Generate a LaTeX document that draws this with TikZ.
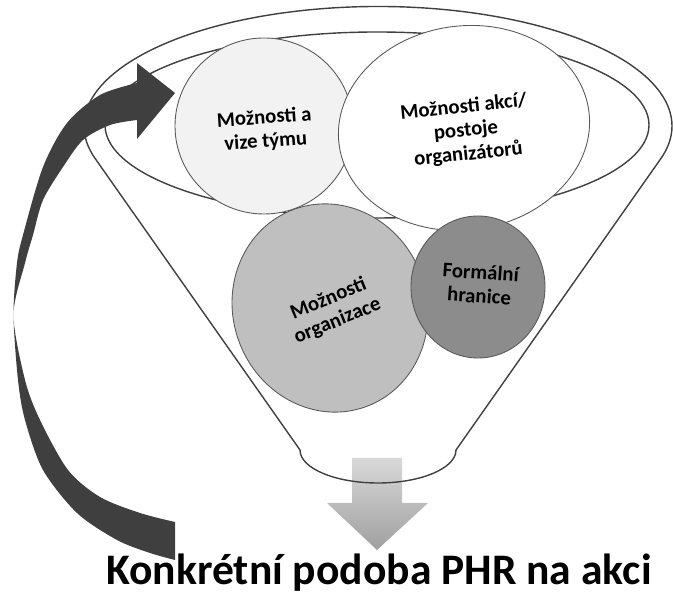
\documentclass[tikz,border=0pt]{standalone}
\usepackage{fontspec}
\setmainfont{Carlito}
\usetikzlibrary{arrows.meta}

\definecolor{arrowgray}{HTML}{3F3F3F}
\definecolor{linegray}{HTML}{404040}
\definecolor{teamgray}{HTML}{F2F2F2}
\definecolor{orggray}{HTML}{BFBFBF}
\definecolor{formgray}{HTML}{8C8C8C}

\begin{document}
\begin{tikzpicture}[line width=0.75pt,
  rim/.style={draw=linegray,line width=0.8pt},
  blob/.style={draw=gray!70!black,line width=0.5pt},
  lbl/.style={font=\bfseries\fontsize{11.8}{13.5}\selectfont,align=center,text=black}]

\useasboundingbox (0,0) rectangle (13.46,11.9);

% output arrow below the funnel
\shade[top color=gray!30,bottom color=gray!75] (7.04,2.74) -- (8.04,2.74) -- (8.04,1.84) -- (8.56,1.84)
  -- (7.54,0.9) -- (6.54,1.84) -- (7.04,1.84) -- cycle;

% funnel
\draw[rim] (1.92,8.705) arc[start angle=196.4, end angle=-16.4, x radius=5.88, y radius=2.39]
  -- (9.12,2.9) arc[start angle=0, end angle=-180, x radius=1.56, y radius=0.66] -- cycle;
\draw[rim] (7.54,9.4) ellipse[x radius=5.44, y radius=1.86];

% circles
\draw[blob,fill=teamgray] (5.28,9.38) ellipse[x radius=1.78, y radius=1.76];
\draw[blob,fill=white,rotate around={8:(9.28,9.34)}] (9.28,9.34) ellipse[x radius=2.52, y radius=2.04];
\draw[blob,fill=orggray,rotate around={20:(6.6,5.74)}] (6.6,5.74) ellipse[x radius=1.94, y radius=2.1];
\draw[blob,fill=formgray] (9.56,6.16) ellipse[x radius=1.34, y radius=1.42];

\node[lbl,rotate=4] (vize) at (5.3,9.3) {Možnosti a\\vize týmu};
\node[lbl,rotate=6] (akce) at (9.32,9.28) {Možnosti akcí/\\postoje\\organizátorů};
\node[lbl,rotate=22] (org) at (6.66,5.7) {Možnosti\\organizace};
\node[lbl,rotate=-4] (hranice) at (9.6,6.22) {Formální\\hranice};

% feedback arrow on the left
\fill[arrowgray] plot[smooth] coordinates {(3.5,0.7) (3.0,0.84) (2.34,1.1) (1.54,1.64) (0.86,2.5)
    (0.5,3.5) (0.36,4.3) (0.27,5.6) (0.34,6.64) (0.46,7.2) (0.86,8.56) (1.34,9.44)
    (2.0,10.0) (2.74,10.24)}
  -- (2.74,10.64) -- (3.5,10.04) -- (2.74,9.12)
  -- plot[smooth] coordinates {(2.74,9.5) (2.2,9.4) (1.66,9.1) (1.26,8.56) (0.86,7.9) (0.66,7.2)
    (0.5,6.64) (0.27,5.6) (0.5,4.3) (0.8,3.5) (1.36,2.5) (2.0,1.96) (2.8,1.64) (3.5,1.46)}
  -- cycle;

\node[font=\bfseries\fontsize{24.8}{28}\selectfont,anchor=base] (podoba) at (7.58,0.2) {Konkrétní podoba PHR na akci};

\end{tikzpicture}
\end{document}
